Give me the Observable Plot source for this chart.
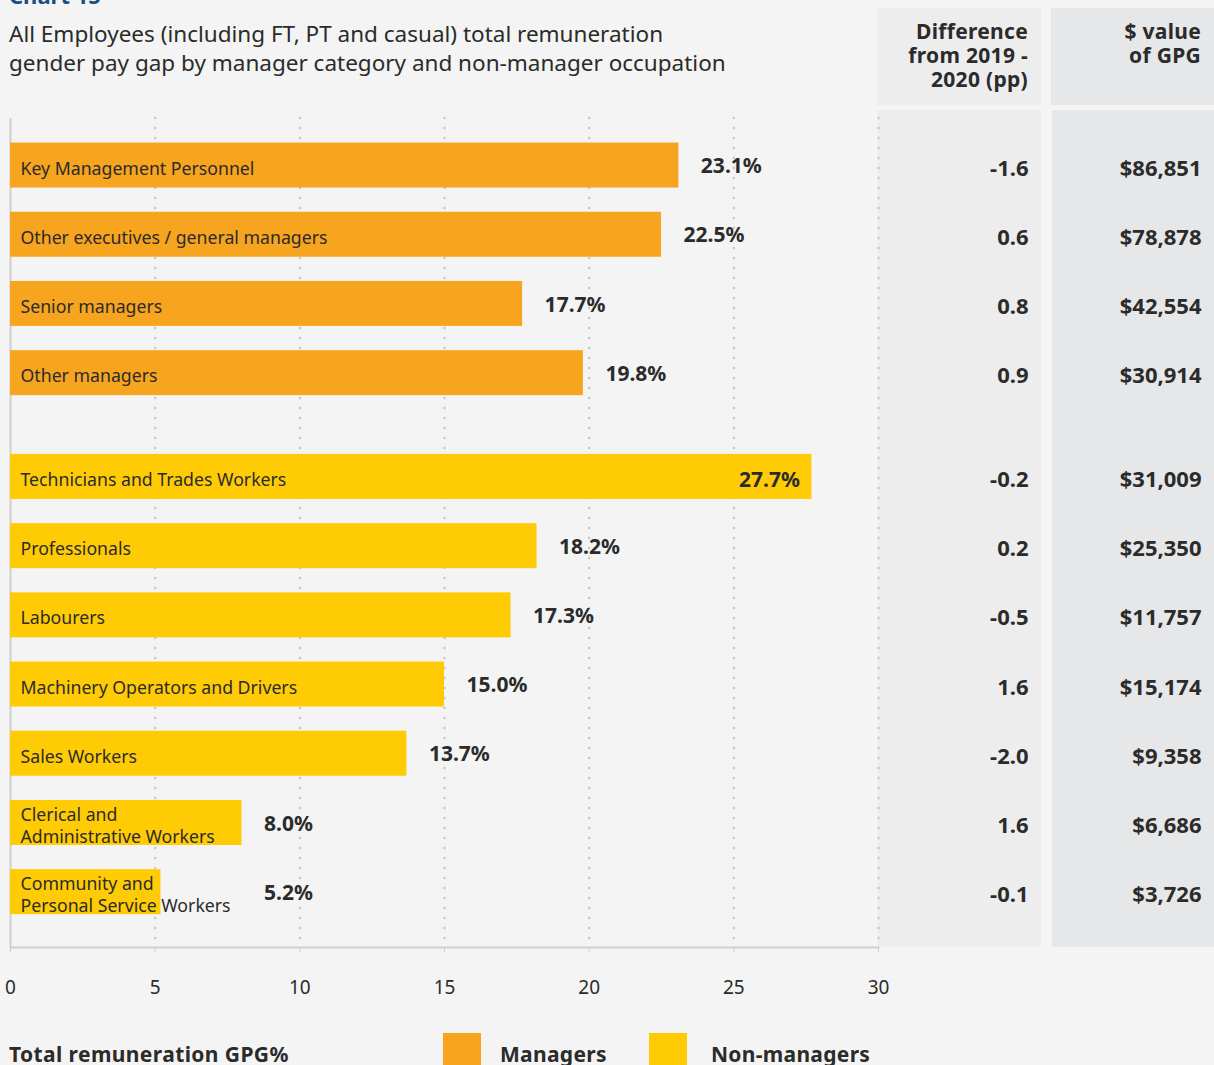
<!DOCTYPE html>
<html>
<head>
<meta charset="utf-8">
<script src="https://cdn.jsdelivr.net/npm/d3@7"></script>
<script src="https://cdn.jsdelivr.net/npm/@observablehq/plot@0.6"></script>
<style>
  html, body { margin: 0; padding: 0; background: #f3f4f3; }
  body { width: 1214px; height: 1065px; overflow: hidden; position: relative;
         font-family: "Noto Sans", sans-serif; color: #2b2b2b; }
  .abs { position: absolute; }
  #chartno { left: 9px; top: -20px; font-size: 22px; font-weight: bold; color: #1b4f80; white-space: nowrap; }
  #title { left: 9px; top: 19px; font-size: 22.5px; line-height: 29px; white-space: nowrap; color: #2b2b2b; }
  .head { font-size: 21px; line-height: 24px; font-weight: bold; text-align: right; white-space: nowrap; letter-spacing: 0.3px; }
  #footer { left: 9px; top: 1040px; font-size: 21px; font-weight: bold; white-space: nowrap; letter-spacing: 0.4px; }
  .sw { width: 38px; height: 32px; top: 1033px; }
  .lt { top: 1040px; font-size: 21px; font-weight: bold; white-space: nowrap; letter-spacing: 0.3px; }
</style>
</head>
<body>
<div id="chartno" class="abs">Chart 15</div>
<div id="title" class="abs">All Employees (including FT, PT and casual) total remuneration<br>gender pay gap by manager category and non-manager occupation</div>

<div class="abs" style="left:877px;top:8px;width:164px;height:97px;background:#ededed"></div>
<div class="abs" style="left:1051px;top:8px;width:163px;height:97px;background:#e6e7e8"></div>
<div class="abs" style="left:878px;top:110px;width:163px;height:837px;background:#ededed"></div>
<div class="abs" style="left:1052px;top:110px;width:162px;height:837px;background:#e6e7e8"></div>

<div id="diffHead" class="abs head" style="left:878px;top:19px;width:150px"></div>
<div id="valHead" class="abs head" style="left:1052px;top:19px;width:149px"></div>

<div id="main" class="abs" style="left:0;top:0"></div>
<div id="diffCol" class="abs" style="left:878px;top:0"></div>
<div id="valCol" class="abs" style="left:1052px;top:0"></div>

<div id="footer" class="abs"></div>
<div id="legend"></div>

<script>
// ---- Data ----
const categories = [
  "Key Management Personnel",
  "Other executives / general managers",
  "Senior managers",
  "Other managers",
  "Technicians and Trades Workers",
  "Professionals",
  "Labourers",
  "Machinery Operators and Drivers",
  "Sales Workers",
  "Clerical and\nAdministrative Workers",
  "Community and\nPersonal Service Workers"
];
const groups = ["Managers","Managers","Managers","Managers",
  "Non-managers","Non-managers","Non-managers","Non-managers","Non-managers","Non-managers","Non-managers"];
const gpgPct = [23.1, 22.5, 17.7, 19.8, 27.7, 18.2, 17.3, 15.0, 13.7, 8.0, 5.2];
const diffPP = [-1.6, 0.6, 0.8, 0.9, -0.2, 0.2, -0.5, 1.6, -2.0, 1.6, -0.1];
const gpgDollars = [86851, 78878, 42554, 30914, 31009, 25350, 11757, 15174, 9358, 6686, 3726];

const groupNames = ["Managers", "Non-managers"];
const groupColors = ["#f7a41e", "#ffcb05"];
const xTicks = [0, 5, 10, 15, 20, 25, 30];
const diffHeader = ["Difference", "from 2019 -", "2020 (pp)"];
const valueHeader = ["$ value", "of GPG"];
const axisTitle = "Total remuneration GPG%";

// ---- Layout helpers ----
const groupGap = 0.5;         // extra row space between the two groups
const barHalf = 0.325;        // half bar thickness in rows
const labelClear = 8;         // value labels never sit left of this (clears wrapped names)
const rows = categories.map((c, i) => ({
  category: c, group: groups[i], gpg: gpgPct[i], diff: diffPP[i], dollars: gpgDollars[i],
  row: i + (groups[i] === groupNames[1] ? groupGap : 0)
}));
const maxRow = d3.max(rows, d => d.row);
const maxGpg = d3.max(rows, d => d.gpg);
const yScale = {domain: [-0.68, maxRow + 0.8], reverse: true, axis: null};
const H = 1000, MT = 118, MB = 53;
const svgStyle = {background: "transparent", overflow: "visible", fontFamily: "Noto Sans"};

const main = Plot.plot({
  width: 1214, height: H, marginTop: MT, marginBottom: MB, marginLeft: 10, marginRight: 336,
  style: svgStyle,
  x: {domain: [0, 30], axis: null, label: null},
  y: yScale,
  color: {domain: groupNames, range: groupColors},
  marks: [
    Plot.gridX({ticks: xTicks.filter(t => t > 0), stroke: "#c6c6c6", strokeOpacity: 1,
      strokeWidth: 2.5, strokeDasharray: "0,10", strokeLinecap: "round"}),
    Plot.frame({anchor: "bottom", stroke: "#cfcfcf", strokeWidth: 2}),
    Plot.ruleX([0], {stroke: "#cfcfcf", strokeWidth: 2}),
    Plot.axisX({ticks: xTicks, tickSize: 5, tickPadding: 28, fontSize: 19, label: null,
      stroke: "#cfcfcf", fill: "#2b2b2b", tickFormat: d => String(d)}),
    Plot.rectX(rows, {x1: 0, x2: "gpg", y1: d => d.row - barHalf, y2: d => d.row + barHalf, fill: "group"}),
    Plot.text(rows, {x: 0, y: "row", text: "category", textAnchor: "start", dx: 10, dy: 2,
      fontSize: 17.7, lineHeight: 1.24, fill: "#2b2b2b"}),
    Plot.text(rows.filter(d => d.gpg < maxGpg), {x: d => Math.max(d.gpg, labelClear), y: "row",
      text: d => d.gpg.toFixed(1) + "%", textAnchor: "start", dx: 22, dy: 1,
      fontSize: 21, fontWeight: "bold", fill: "#2b2b2b", letterSpacing: "1.1px"}),
    Plot.text(rows.filter(d => d.gpg === maxGpg), {x: "gpg", y: "row",
      text: d => d.gpg.toFixed(1) + "%", textAnchor: "end", dx: -12, dy: 3,
      fontSize: 21, fontWeight: "bold", fill: "#2b2b2b", letterSpacing: "1.1px"})
  ]
});
document.getElementById("main").appendChild(main);

function column(width, textFn) {
  return Plot.plot({
    width, height: H, marginTop: MT, marginBottom: MB, marginLeft: 0, marginRight: 13,
    style: svgStyle,
    x: {axis: null}, y: yScale,
    marks: [
      Plot.text(rows, {y: "row", text: textFn, frameAnchor: "right", textAnchor: "end", dy: 3,
        fontSize: 22, fontWeight: "bold", fill: "#2b2b2b", letterSpacing: "1.4px"})
    ]
  });
}
document.getElementById("diffCol").appendChild(column(163, d => d.diff.toFixed(1)));
document.getElementById("valCol").appendChild(column(162, d => "$" + d3.format(",")(d.dollars)));

document.getElementById("diffHead").innerHTML = diffHeader.join("<br>");
document.getElementById("valHead").innerHTML = valueHeader.join("<br>");
document.getElementById("footer").textContent = axisTitle;

// legend
const legend = document.getElementById("legend");
const swatchLeft = [443, 649], textLeft = [500, 711];
groupNames.forEach((g, i) => {
  const s = document.createElement("div");
  s.className = "abs sw"; s.style.left = swatchLeft[i] + "px"; s.style.background = groupColors[i];
  legend.appendChild(s);
  const t = document.createElement("div");
  t.className = "abs lt"; t.style.left = textLeft[i] + "px"; t.textContent = g;
  legend.appendChild(t);
});
</script>
</body>
</html>
